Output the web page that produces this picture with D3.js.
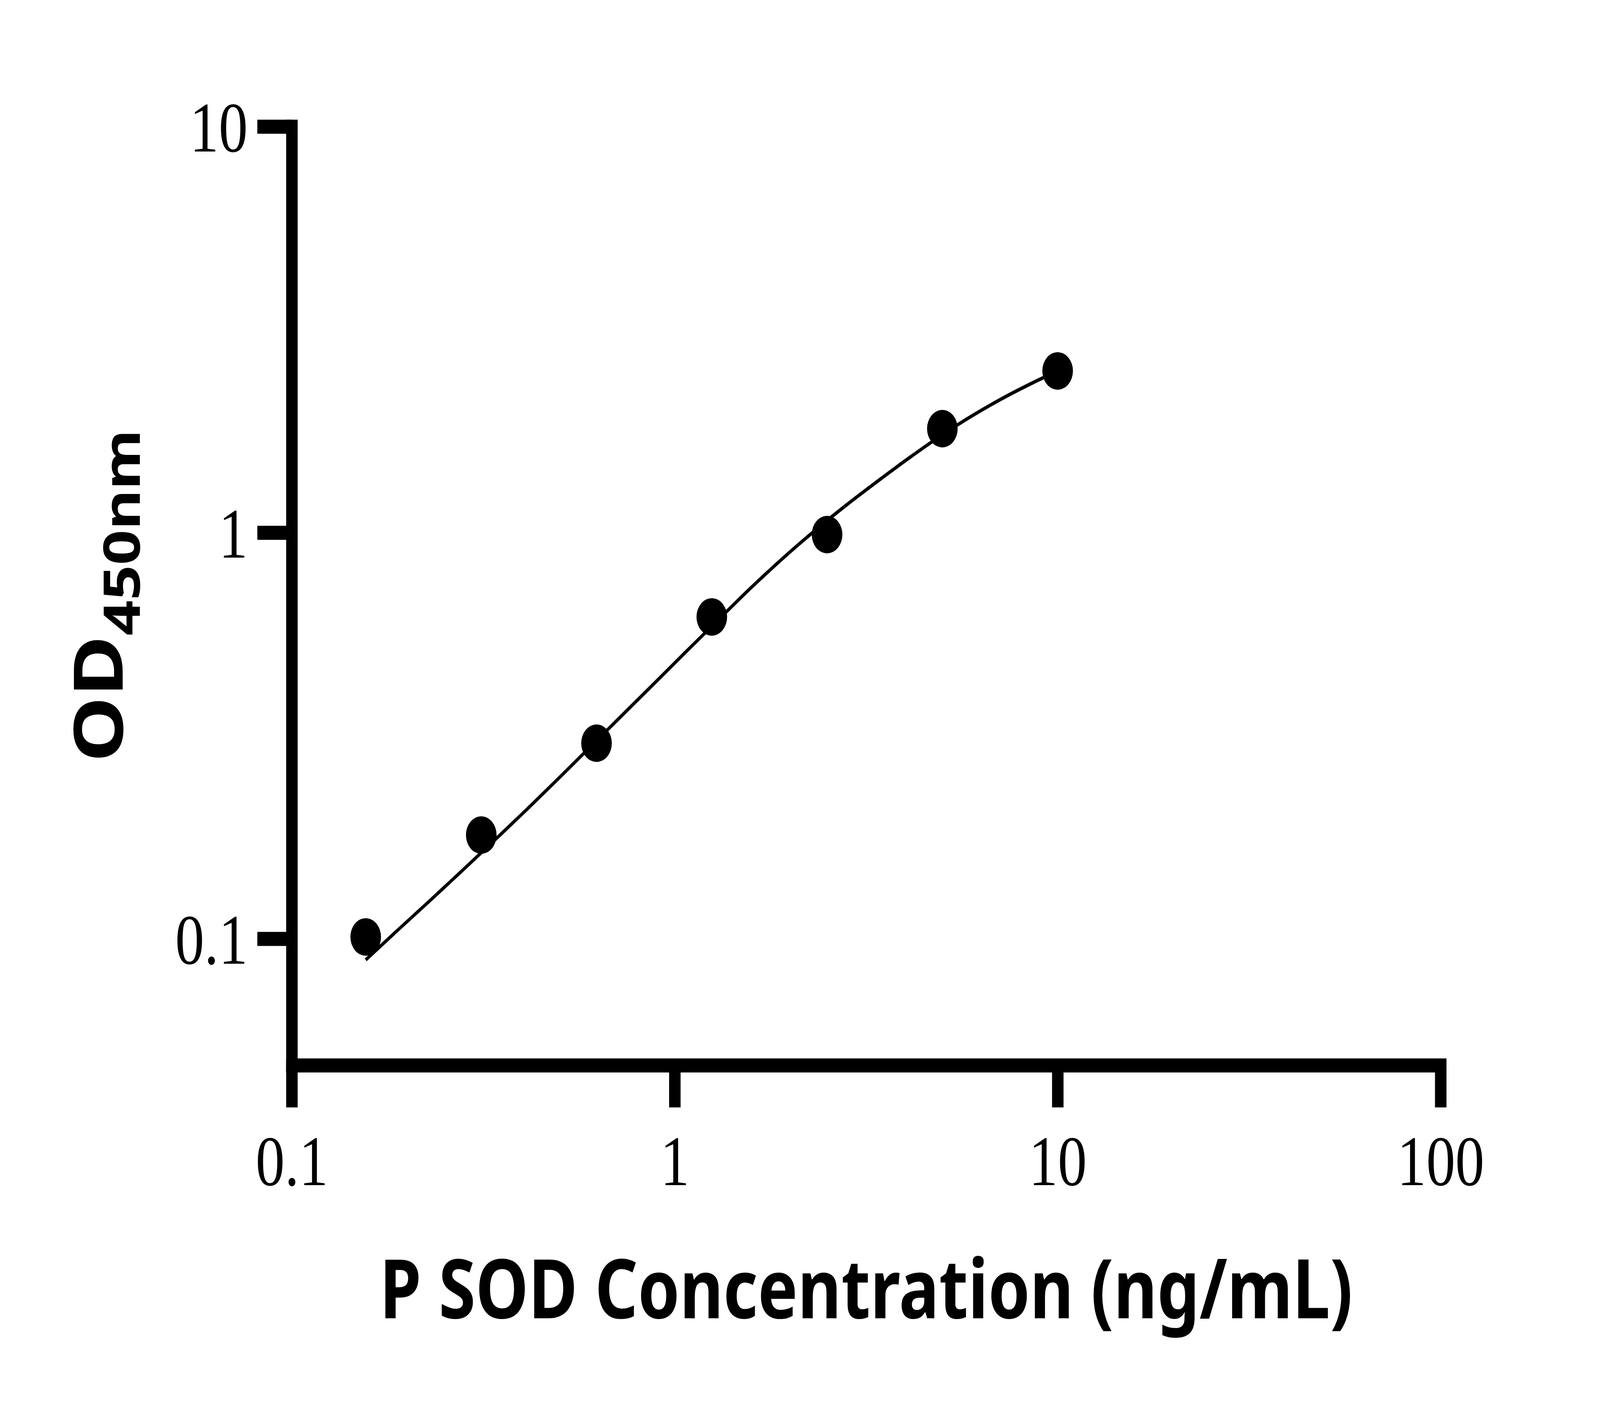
<!DOCTYPE html>
<html>
<head>
<meta charset="utf-8">
<script src="https://cdn.jsdelivr.net/npm/d3@7/dist/d3.min.js"></script>
<style>
  html, body { margin: 0; padding: 0; background: #ffffff; width: 100%; height: 100%; overflow: hidden; }
  svg { display: block; position: fixed; left: 0; top: 0; width: 100vw; height: 100vh; }
</style>
</head>
<body>
<svg id="chart" viewBox="0 0 5018 3616" preserveAspectRatio="none"></svg>
<script>
// ---- data ----
const concentrations = [0.156, 0.3125, 0.625, 1.25, 2.5, 5, 10];
const odValues = [0.101, 0.180, 0.303, 0.620, 0.989, 1.803, 2.501];

// fitted standard curve
const curveX = [0.156, 0.1902, 0.2304, 0.2791, 0.3381, 0.4097, 0.4965, 0.6015, 0.7289, 0.8830, 1.069, 1.296, 1.570, 1.902, 2.304, 2.791, 3.382, 4.097, 4.965, 6.015, 7.289, 8.830, 10];
const curveY = [0.0887, 0.1055, 0.1245, 0.1473, 0.1746, 0.2075, 0.2477, 0.2966, 0.3549, 0.4247, 0.5083, 0.6083, 0.7265, 0.8592, 1.005, 1.164, 1.337, 1.528, 1.734, 1.946, 2.158, 2.366, 2.503];

const xTicks = [0.1, 1, 10, 100];
const xTickLabels = ["0.1", "1", "10", "100"];
const yTicks = [0.1, 1, 10];
const yTickLabels = ["0.1", "1", "10"];

const xTitle = "P SOD Concentration (ng/mL)";
const yTitleMain = "OD";
const yTitleSub = "450nm";

// ---- layout (drawn in a 5018 x 3616 coordinate space) ----
const svg = d3.select("#chart");
svg.append("rect").attr("width", 5018).attr("height", 3616).attr("fill", "#fff");

const x = d3.scaleLog().domain([0.1, 100]).range([915, 4518]);
const y = d3.scaleLog().domain([0.0488, 10]).range([2728, 324]);

const AXIS_W = 36;
const TICK_LEN = 108;
const tickFont = "'Liberation Serif', 'Times New Roman', serif";
const titleFont = "'Noto Sans', 'Open Sans', sans-serif";

// y axis
const yAxis = d3.axisLeft(y)
  .tickValues(yTicks)
  .tickFormat((d, i) => yTickLabels[i])
  .tickSize(TICK_LEN)
  .tickSizeOuter(0)
  .tickPadding(30);
const gy = svg.append("g").attr("transform", `translate(${x(0.1)},0)`).call(yAxis);

// x axis
const xAxis = d3.axisBottom(x)
  .tickValues(xTicks)
  .tickFormat((d, i) => xTickLabels[i])
  .tickSize(TICK_LEN)
  .tickSizeOuter(0)
  .tickPadding(70);
const gx = svg.append("g").attr("transform", `translate(0,${y.range()[0]})`).call(xAxis);

[gx, gy].forEach(g => {
  g.select(".domain").attr("stroke", "#000").attr("stroke-width", AXIS_W).attr("stroke-linecap", "square");
  g.selectAll(".tick line").attr("stroke", "#000").attr("stroke-width", AXIS_W);
  g.selectAll(".tick text")
    .attr("fill", "#000")
    .style("font-family", tickFont)
    .style("font-size", "182px");
});
gy.selectAll(".tick text").attr("dy", "0.35em");

// fitted curve
const line = d3.line()
  .x(d => x(d[0]))
  .y(d => y(d[1]))
  .curve(d3.curveMonotoneX);
svg.append("path")
  .datum(curveX.map((v, i) => [v, curveY[i]]))
  .attr("d", line)
  .attr("fill", "none")
  .attr("stroke", "#000")
  .attr("stroke-width", 9);

// data points
svg.append("g").selectAll("circle")
  .data(concentrations.map((c, i) => ({ c, od: odValues[i] })))
  .join("circle")
  .attr("cx", d => x(d.c))
  .attr("cy", d => y(d.od))
  .attr("r", 48)
  .attr("fill", "#000");

// x title
svg.append("text")
  .attr("x", (x.range()[0] + x.range()[1]) / 2)
  .attr("y", 3376)
  .attr("text-anchor", "middle")
  .style("font-family", titleFont)
  .style("font-weight", "bold")
  .style("font-size", "210px")
  .attr("fill", "#000")
  .text(xTitle);

// y title
const yt = svg.append("text")
  .attr("transform", `translate(385,${(y.range()[0] + y.range()[1]) / 2}) rotate(-90)`)
  .attr("text-anchor", "middle")
  .style("font-family", titleFont)
  .style("font-weight", "bold")
  .attr("fill", "#000");
yt.append("tspan").style("font-size", "213px").text(yTitleMain);
yt.append("tspan").style("font-size", "158px").attr("dy", 53).text(yTitleSub);
</script>
</body>
</html>
